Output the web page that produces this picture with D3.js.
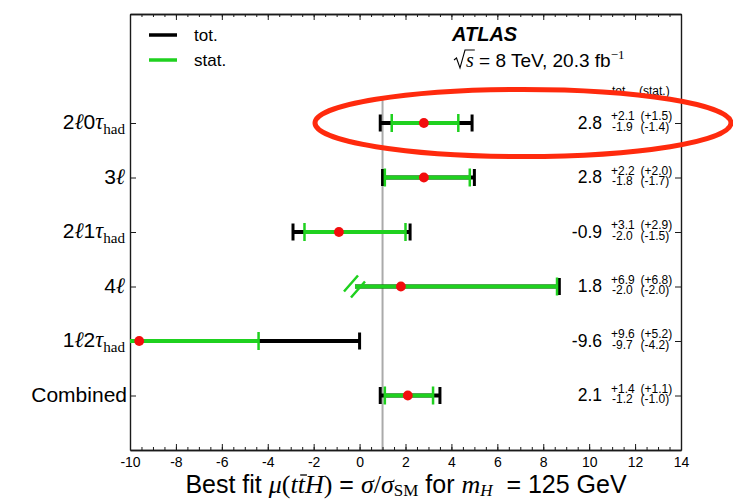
<!DOCTYPE html>
<html>
<head>
<meta charset="utf-8">
<script src="https://cdn.jsdelivr.net/npm/d3@7"></script>
<style>
  body { margin: 0; background: #fff; }
  text { white-space: pre; }
</style>
</head>
<body>
<svg id="chart" width="733" height="500"></svg>
<script>
// ttH signal strength per channel, ATLAS 8 TeV multilepton search
const categories = ["2ℓ0τ_had", "3ℓ", "2ℓ1τ_had", "4ℓ", "1ℓ2τ_had", "Combined"];
const mu     = [2.8, 2.8, -0.9, 1.8, -9.6, 2.1];
const totUp  = [2.1, 2.2, 3.1, 6.9, 9.6, 1.4];
const totDn  = [1.9, 1.8, 2.0, 2.0, 9.7, 1.2];
const statUp = [1.5, 2.0, 2.9, 6.8, 5.2, 1.1];
const statDn = [1.4, 1.7, 1.5, 2.0, 4.2, 1.0];
// lower edge of the 4ℓ interval is cut by a break marker
const truncatedLow = [false, false, false, true, false, false];
const xTickValues = [-10, -8, -6, -4, -2, 0, 2, 4, 6, 8, 10, 12, 14];
const xDomain = [-10, 14];
const smValue = 1;
const legendItems = ["tot.", "stat."];

const SANS = "'Liberation Sans', Arial, Helvetica, sans-serif";
const SERIF = "'Liberation Serif', 'DejaVu Serif', serif";
const BLACK = "#000";
const GREEN = "#1fd11f";
const RED = "#f20d0d";

const svg = d3.select("#chart");
const M = { left: 130, right: 681, top: 14, bottom: 450 };

const x = d3.scaleLinear().domain(xDomain).range([M.left, M.right]);
const y = d3.scaleLinear().domain([0, 8]).range([M.bottom, M.top]);
const rowY = i => y(categories.length - i);

// text made of several styled runs; runs may be raised or lowered
function rich(g, px, py, runs, anchor) {
  const t = g.append("text").attr("x", px).attr("y", py)
    .attr("text-anchor", anchor || "start").attr("fill", "#000");
  let shift = 0;
  runs.forEach(r => {
    const ts = t.append("tspan").text(r.t)
      .attr("font-family", r.f || SANS)
      .attr("font-size", r.s)
      .attr("font-style", r.i ? "italic" : "normal")
      .attr("font-weight", r.b ? "bold" : "normal");
    const target = r.dy || 0;
    if (target !== shift) { ts.attr("dy", target - shift); shift = target; }
  });
  return t;
}

// channel label: digits in sans, ℓ and τ italic, "had" as a roman subscript
function labelRuns(name, size) {
  if (!/[ℓτ]/.test(name)) return [{ t: name, s: size }];
  const [main, sub] = name.split("_");
  const runs = [];
  for (const ch of main) {
    if (ch === "ℓ") runs.push({ t: ch, s: size * 1.05, f: SERIF, i: true });
    else if (ch === "τ") runs.push({ t: ch, s: size * 1.05, f: SERIF, i: true });
    else runs.push({ t: ch, s: size });
  }
  if (sub) runs.push({ t: sub, s: size * 0.72, f: SERIF, dy: 5 });
  return runs;
}

// ---- clip region for the error bars
svg.append("clipPath").attr("id", "plot-clip")
  .append("rect").attr("x", M.left).attr("y", M.top)
  .attr("width", M.right - M.left).attr("height", M.bottom - M.top);

// ---- SM reference line at mu = 1
svg.append("line")
  .attr("x1", x(smValue)).attr("x2", x(smValue))
  .attr("y1", y(0)).attr("y2", y(6.42))
  .attr("stroke", "#aaaaaa").attr("stroke-width", 2);

// ---- axes: ticks drawn inward on all four sides
const minorTicks = d3.range(xDomain[0], xDomain[1] + 0.001, 0.5);
const axisG = svg.append("g").attr("stroke-width", 1);

axisG.append("g").attr("transform", `translate(0,${M.bottom})`)
  .call(d3.axisBottom(x).tickValues(minorTicks).tickSize(-3).tickFormat("").tickSizeOuter(0));
axisG.append("g").attr("transform", `translate(0,${M.bottom})`)
  .call(d3.axisBottom(x).tickValues(xTickValues).tickSize(-6).tickPadding(7).tickSizeOuter(0)
    .tickFormat(d => d < 0 ? "-" + Math.abs(d) : String(d)))
  .call(g => g.selectAll("text").attr("font-family", SANS).attr("font-size", 14).attr("fill", "#000"));
axisG.append("g").attr("transform", `translate(0,${M.top})`)
  .call(d3.axisTop(x).tickValues(minorTicks).tickSize(-3).tickFormat("").tickSizeOuter(0));
axisG.append("g").attr("transform", `translate(0,${M.top})`)
  .call(d3.axisTop(x).tickValues(xTickValues).tickSize(-6).tickFormat("").tickSizeOuter(0));

const rowVals = categories.map((c, i) => categories.length - i);
axisG.append("g").attr("transform", `translate(${M.left},0)`)
  .call(d3.axisLeft(y).tickValues(rowVals).tickSize(-6).tickFormat("").tickSizeOuter(0));
axisG.append("g").attr("transform", `translate(${M.right},0)`)
  .call(d3.axisRight(y).tickValues(rowVals).tickSize(-6).tickFormat("").tickSizeOuter(0));
axisG.selectAll(".domain").attr("stroke", "#1a1a1a").attr("stroke-width", 1.4);
axisG.selectAll(".tick line").attr("stroke", "#1a1a1a");

// ---- error bars
const bars = svg.append("g").attr("clip-path", "url(#plot-clip)");
const capH = 8.5;
categories.forEach((c, i) => {
  const yy = rowY(i);
  const tLo = mu[i] - totDn[i], tHi = mu[i] + totUp[i];
  const sLo = mu[i] - statDn[i], sHi = mu[i] + statUp[i];
  const g = bars.append("g");

  g.append("line").attr("x1", x(tLo)).attr("x2", x(tHi)).attr("y1", yy).attr("y2", yy)
    .attr("stroke", BLACK).attr("stroke-width", 4);
  const totCaps = truncatedLow[i] ? [tHi] : [tLo, tHi];
  totCaps.forEach(v => g.append("line").attr("x1", x(v)).attr("x2", x(v))
    .attr("y1", yy - capH).attr("y2", yy + capH).attr("stroke", BLACK).attr("stroke-width", 3));

  g.append("line").attr("x1", x(sLo)).attr("x2", x(sHi)).attr("y1", yy).attr("y2", yy)
    .attr("stroke", GREEN).attr("stroke-width", 4);
  const statCaps = truncatedLow[i] ? [sHi] : [sLo, sHi];
  statCaps.forEach(v => g.append("line").attr("x1", x(v)).attr("x2", x(v))
    .attr("y1", yy - capH - 0.5).attr("y2", yy + capH + 0.5).attr("stroke", GREEN).attr("stroke-width", 2.5));

  if (truncatedLow[i]) {
    // break marker: two parallel slashes across the bar end
    const xb = x(tLo);
    const marker = `M${xb - 11},${yy + 5} L${xb + 3},${yy - 11} ` +
      `M${xb - 4},${yy + 11} L${xb + 10},${yy - 5}`;
    g.append("path").attr("d", marker).attr("fill", "none")
      .attr("stroke", GREEN).attr("stroke-width", 2.5);
  }

  g.append("circle").attr("cx", x(mu[i])).attr("cy", yy).attr("r", 4.9).attr("fill", RED);
});

// ---- channel labels on the left
categories.forEach((c, i) => {
  const isPlain = !/[ℓτ]/.test(c);
  rich(svg, isPlain ? 127 : 125, rowY(i) + 6, labelRuns(c, 21), "end");
});

// ---- numerical results on the right
const fmt = v => v.toFixed(1);
const sgn = v => (v < 0 ? "-" : "") + Math.abs(v).toFixed(1);
const resG = svg.append("g").attr("font-family", SANS).attr("fill", "#000");
resG.append("text").attr("x", 612).attr("y", 95).attr("font-size", 12).text("tot.");
resG.append("text").attr("x", 639).attr("y", 95).attr("font-size", 12).text("(stat.)");
categories.forEach((c, i) => {
  const yy = rowY(i);
  resG.append("text").attr("x", 602).attr("y", yy + 5.5).attr("text-anchor", "end")
    .attr("font-size", 17.5).text(sgn(mu[i]));
  resG.append("text").attr("x", 611).attr("y", yy - 3).attr("font-size", 12).text("+" + fmt(totUp[i]));
  resG.append("text").attr("x", 612).attr("y", yy + 7.5).attr("font-size", 12).text("-" + fmt(totDn[i]));
  resG.append("text").attr("x", 640.5).attr("y", yy - 3).attr("font-size", 12).text("(+" + fmt(statUp[i]) + ")");
  resG.append("text").attr("x", 640.5).attr("y", yy + 7.5).attr("font-size", 12).text("(-" + fmt(statDn[i]) + ")");
});

// ---- legend
const legColors = [BLACK, GREEN];
legendItems.forEach((name, k) => {
  const ly = 35 + k * 25;
  svg.append("line").attr("x1", 149).attr("x2", 177).attr("y1", ly).attr("y2", ly)
    .attr("stroke", legColors[k]).attr("stroke-width", 3.5);
  svg.append("text").attr("x", 194).attr("y", ly + 6).attr("font-family", SANS)
    .attr("font-size", 17).text(name);
});

// ---- experiment label
rich(svg, 452, 41, [{ t: "ATLAS", s: 20, b: true, i: true }]);
const energy = rich(svg, 466, 67, [
  { t: "s", s: 20, f: SERIF, i: true },
  { t: " = 8 TeV, 20.3 fb", s: 19 },
  { t: "−1", s: 13, f: SERIF, dy: -8 }
]);
{
  const e = energy.node().getExtentOfChar(0);
  const top = 67 - 17;
  svg.append("path")
    .attr("d", `M${e.x - 12},${67 - 7} L${e.x - 9.5},${67 - 9} L${e.x - 6},${67 + 1} L${e.x - 1},${top} L${e.x + e.width + 1},${top}`)
    .attr("fill", "none").attr("stroke", "#000").attr("stroke-width", 1.1);
}

// ---- x axis title
const title = rich(svg, 406, 493, [
  { t: "Best fit ", s: 25 },
  { t: "μ", s: 26, f: SERIF, i: true },
  { t: "(", s: 26, f: SERIF },
  { t: "tt", s: 26, f: SERIF, i: true },
  { t: "H", s: 26, f: SERIF, i: true },
  { t: ")", s: 26, f: SERIF },
  { t: " = ", s: 25 },
  { t: "σ", s: 26, f: SERIF, i: true },
  { t: "/", s: 26, f: SERIF },
  { t: "σ", s: 26, f: SERIF, i: true },
  { t: "SM", s: 17, f: SERIF, dy: 3 },
  { t: " for ", s: 25 },
  { t: "m", s: 26, f: SERIF, i: true },
  { t: "H", s: 17, f: SERIF, i: true, dy: 3 },
  { t: "  = 125 GeV", s: 25 }
], "middle");
{
  // bar over the second t (character index: "Best fit μ(t" -> 12)
  const e = title.node().getExtentOfChar(12);
  const by = 493 - 18;
  svg.append("line").attr("x1", e.x + 2.5).attr("x2", e.x + e.width + 2)
    .attr("y1", by).attr("y2", by).attr("stroke", "#000").attr("stroke-width", 1.3);
}

// ---- highlight ellipse around the 2ℓ0τ_had result
svg.append("ellipse")
  .attr("cx", 523).attr("cy", rowY(0)).attr("rx", 208).attr("ry", 33.5)
  .attr("fill", "none").attr("stroke", "#ff2a0d").attr("stroke-width", 5);
</script>
</body>
</html>
